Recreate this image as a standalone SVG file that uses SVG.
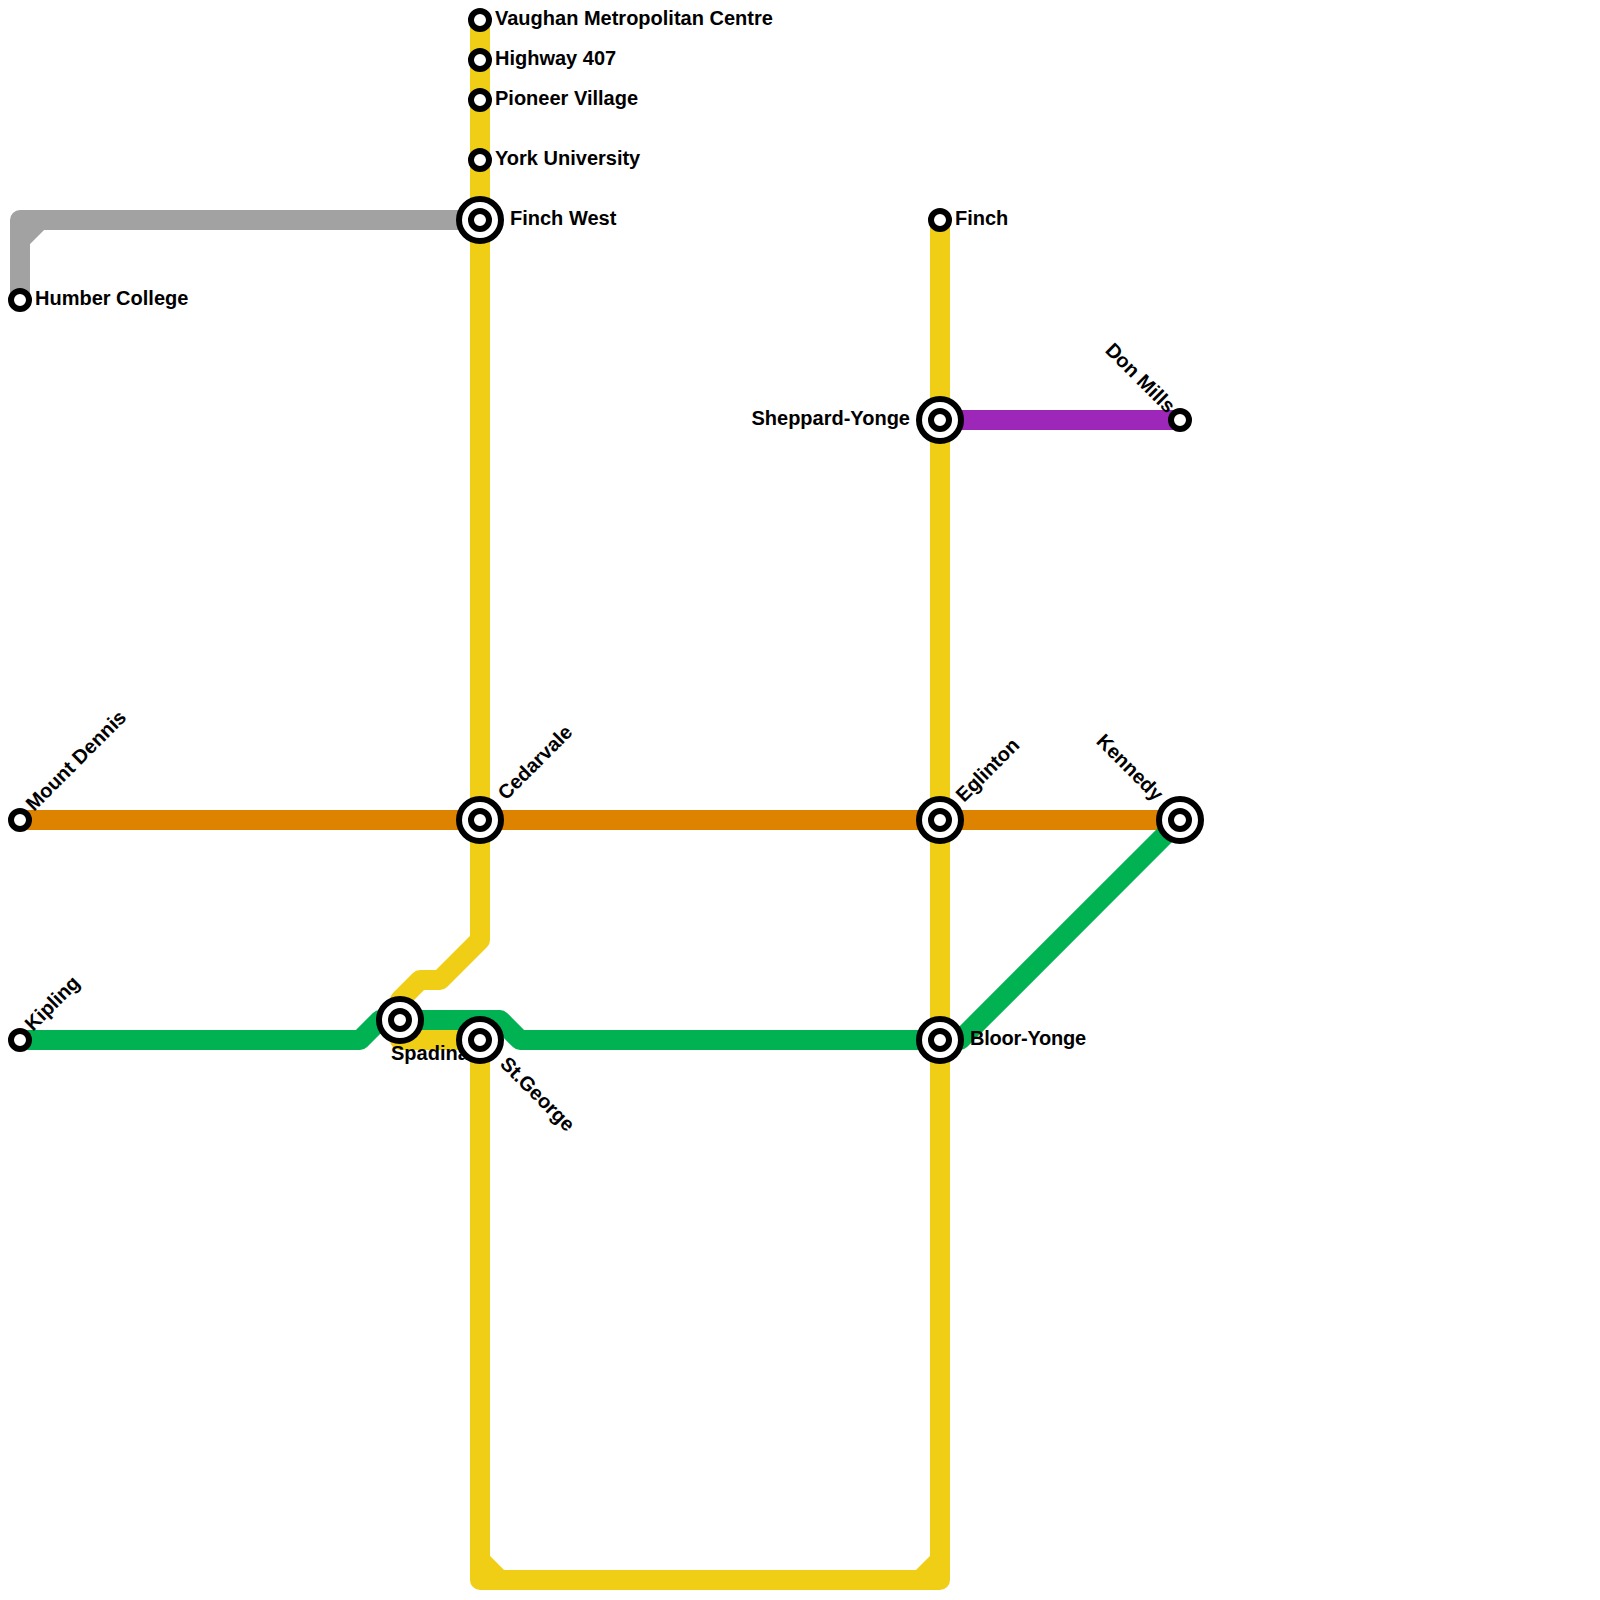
<svg xmlns="http://www.w3.org/2000/svg" width="1600" height="1600" viewBox="0 0 1600 1600">
<style>
.l{fill:none;stroke-width:20;stroke-linejoin:round;stroke-linecap:butt}
.s{fill:#fff;stroke:#000;stroke-width:6}
.o{fill:#fff;stroke:#000;stroke-width:6}
text{font-family:"Liberation Sans",Arial,sans-serif;font-weight:700;font-size:20px;fill:#000}
.e{text-anchor:end}
</style>
<rect width="1600" height="1600" fill="#fff"/>
<g id="connectors">
<path class="l" stroke="#a2a2a2" d="M20 300V220H480M20 240L40 220"/>
<path class="l" stroke="#f0ce15" d="M480 20V940L440 980H420L400 1000V1040H480V1580H940V220M480 1560L500 1580M920 1580L940 1560"/>
<path class="l" stroke="#de8300" d="M20 820H1180"/>
<path class="l" stroke="#00b251" d="M20 1040H360L380 1020H500L520 1040H960L1180 820"/>
<path class="l" stroke="#9c27b8" d="M940 420H1180"/>
</g>
<g id="vaughan"><circle class="s" cx="480" cy="20" r="9"/><text x="495" y="25">Vaughan Metropolitan Centre</text></g>
<g id="highway407"><circle class="s" cx="480" cy="60" r="9"/><text x="495" y="65">Highway 407</text></g>
<g id="pioneer"><circle class="s" cx="480" cy="100" r="9"/><text x="495" y="105">Pioneer Village</text></g>
<g id="york"><circle class="s" cx="480" cy="160" r="9"/><text x="495" y="165">York University</text></g>
<g id="finchwest"><circle class="o" cx="480" cy="220" r="21"/><circle class="s" cx="480" cy="220" r="9"/><text x="510" y="225">Finch West</text></g>
<g id="humber"><circle class="s" cx="20" cy="300" r="9"/><text x="35" y="305">Humber College</text></g>
<g id="finch"><circle class="s" cx="940" cy="220" r="9"/><text x="955" y="225">Finch</text></g>
<g id="sheppard"><circle class="o" cx="940" cy="420" r="21"/><circle class="s" cx="940" cy="420" r="9"/><text class="e" x="910" y="425">Sheppard-Yonge</text></g>
<g id="donmills"><text class="e" transform="translate(1167 414) rotate(45)">Don Mills</text><circle class="s" cx="1180" cy="420" r="9"/></g>
<g id="mountdennis"><circle class="s" cx="20" cy="820" r="9"/><text transform="translate(34 812) rotate(-45)">Mount Dennis</text></g>
<g id="cedarvale"><circle class="o" cx="480" cy="820" r="21"/><circle class="s" cx="480" cy="820" r="9"/><text transform="translate(506 801) rotate(-45)">Cedarvale</text></g>
<g id="eglinton"><circle class="o" cx="940" cy="820" r="21"/><circle class="s" cx="940" cy="820" r="9"/><text transform="translate(964 803) rotate(-45)">Eglinton</text></g>
<g id="kennedy"><circle class="o" cx="1180" cy="820" r="21"/><circle class="s" cx="1180" cy="820" r="9"/><text class="e" transform="translate(1155 802) rotate(45)">Kennedy</text></g>
<g id="kipling"><circle class="s" cx="20" cy="1040" r="9"/><text transform="translate(33 1032) rotate(-45)">Kipling</text></g>
<g id="spadina"><circle class="o" cx="400" cy="1020" r="21"/><circle class="s" cx="400" cy="1020" r="9"/><text x="391" y="1060">Spadina</text></g>
<g id="stgeorge"><circle class="o" cx="480" cy="1040" r="21"/><circle class="s" cx="480" cy="1040" r="9"/><text transform="translate(499 1065) rotate(45)">St.George</text></g>
<g id="bloor"><circle class="o" cx="940" cy="1040" r="21"/><circle class="s" cx="940" cy="1040" r="9"/><text x="970" y="1045" letter-spacing="-0.25">Bloor-Yonge</text></g>
</svg>
